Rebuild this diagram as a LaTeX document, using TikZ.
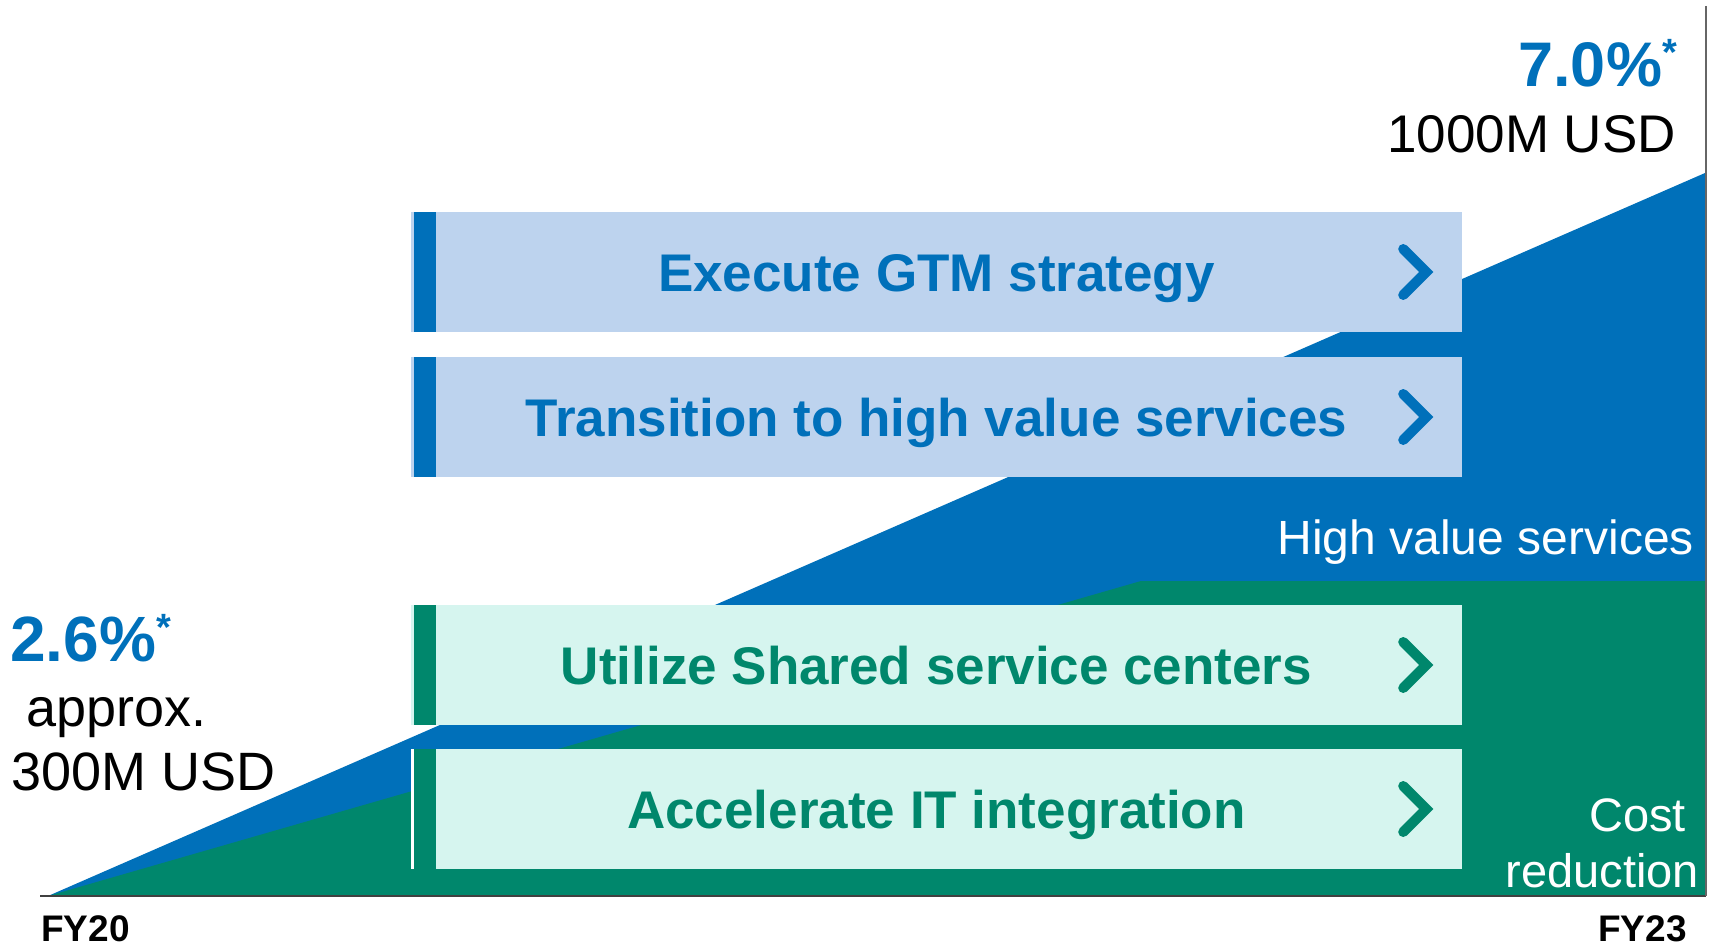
\documentclass[tikz,border=0pt]{standalone}
\usepackage{fontspec}
\setmainfont{Liberation Sans}

\definecolor{hvblue}{HTML}{0070BA}
\definecolor{hvlight}{HTML}{BDD3EE}
\definecolor{crgreen}{HTML}{00876C}
\definecolor{crlight}{HTML}{D6F5EF}

\newcommand{\starnote}{\raisebox{21pt}{\fontsize{38}{38}\selectfont *}}

\begin{document}
\begin{tikzpicture}[x=1pt,y=-1pt,
  goalbox/.style={rectangle,inner sep=0pt,minimum width=1051pt,minimum height=120pt,
    text height=39pt,text depth=0pt,font=\fontsize{53}{60}\selectfont\bfseries},
  chev/.style={line width=10pt,line cap=round,line join=miter},
  pct/.style={text=hvblue,inner sep=0pt,font=\fontsize{63}{70}\selectfont\bfseries},
  amount/.style={inner sep=0pt,font=\fontsize{54}{60}\selectfont},
  year/.style={inner sep=0pt,font=\fontsize{37}{40}\selectfont\bfseries},
  area/.style={text=white,inner sep=0pt,font=\fontsize{47}{52}\selectfont}]

\useasboundingbox (0,0) rectangle (1712,949);

\coordinate (O) at (48,896);
\coordinate (top) at (1705,173);
\coordinate (knee) at (1141,581);
\coordinate (edge) at (1705,581);
\coordinate (end) at (1705,896);

% growth areas
\fill[hvblue] (O) -- (top) -- (end) -- cycle;
\fill[crgreen] (O) -- (knee) -- (edge) -- (end) -- cycle;
\draw[black!75,line width=2pt] (40,896) -- (1706,896);
\draw[black!60,line width=2pt] (1706,6) -- (1706,896);

\begin{scope}[every node/.style={goalbox}]
  \node[fill=hvlight,text=hvblue] (G) at (936.5,272) {Execute GTM strategy};
  \node[fill=hvlight,text=hvblue] (T) at (936.5,417) {Transition to high value services};
  \node[fill=crlight,text=crgreen] (S) at (936.5,665) {Utilize Shared service centers};
  \node[fill=crlight,text=crgreen] (A) at (936.5,809) {Accelerate IT integration};
\end{scope}
\fill[white] (A.north west) rectangle ([xshift=3pt]A.south west);

\foreach \b/\c in {G/hvblue,T/hvblue,S/crgreen,A/crgreen}{
  \fill[\c] ([xshift=3pt]\b.north west) rectangle ([xshift=25pt]\b.south west);
  \draw[\c,chev] ([xshift=-59pt,yshift=23pt]\b.east) -- ([xshift=-36pt]\b.east)
    -- ([xshift=-59pt,yshift=-23pt]\b.east);
}

\node[pct,anchor=base east] (P23) at (1677,87) {7.0\%\starnote};
\node[amount,anchor=base east,font=\fontsize{53}{58}\selectfont] (M23) at (1676,153) {1000M USD};
\node[pct,anchor=base west,font=\fontsize{64}{70}\selectfont\bfseries] (P20) at (10,661) {2.6\%\starnote};
\node[amount,anchor=base west] (approx) at (26,726) {approx.};
\node[amount,anchor=base west] (M20) at (11,790) {300M USD};

\node[year,anchor=base west] (FY20) at (41,941) {FY20};
\node[year,anchor=base east] (FY23) at (1687,941) {FY23};

\node[area,anchor=base east,font=\fontsize{48}{52}\selectfont] (hv) at (1694,554) {High value services};
\node[area,anchor=base east] (cost) at (1686,831) {Cost};
\node[area,anchor=base east] (red) at (1699,887) {reduction};

\end{tikzpicture}
\end{document}
